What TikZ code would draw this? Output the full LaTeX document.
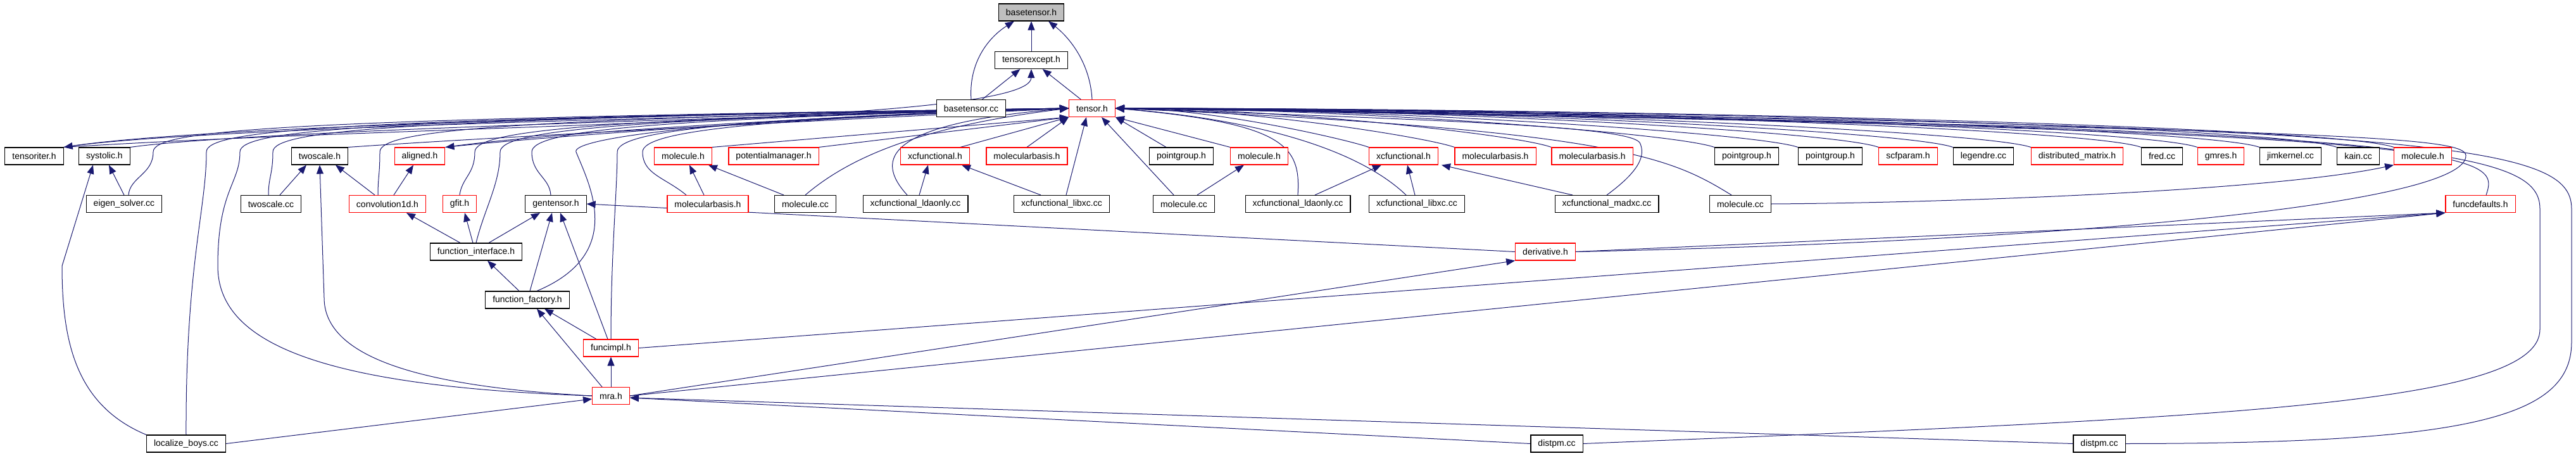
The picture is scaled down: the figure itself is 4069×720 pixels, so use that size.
\documentclass[tikz,border=0pt]{standalone}
\usepackage{fontspec}
\setmainfont{Liberation Sans}
\usetikzlibrary{arrows.meta, backgrounds}
\definecolor{edgeblue}{RGB}{25,25,112}
\definecolor{rootgray}{RGB}{191,191,191}
\tikzset{
  file/.style={rectangle, draw=black, line width=1.1pt, fill=white,
               minimum height=27pt, inner xsep=11.5pt, inner ysep=0pt,
               font=\fontsize{14}{16}\selectfont},
  redfile/.style={file, draw=red},
  rootfile/.style={file, fill=rootgray},
  dep/.style={-{Triangle[length=14pt,width=11pt]}, line width=1pt, draw=edgeblue},
}
\begin{document}
\begin{tikzpicture}[x=1pt, y=1pt]
  \useasboundingbox (0,0) rectangle (4069,-720);

  % Root and top files
  \node[rootfile] (bth) at (1629,-19.5) {basetensor.h};
  \node[file] (tex) at (1629,-95) {tensorexcept.h};
  \node[file] (btcc) at (1534,-171) {basetensor.cc};
  \node[redfile] (tens) at (1725,-171) {tensor.h};

  % First row
  \node[file] (titer) at (54,-246.5) {tensoriter.h};
  \node[file] (syst) at (165,-246.5) {systolic.h};
  \node[file] (twoh) at (505,-246.5) {twoscale.h};
  \node[redfile] (alig) at (663,-246.5) {aligned.h};
  \node[redfile] (molA) at (1079,-246.5) {molecule.h};
  \node[redfile] (potm) at (1222,-246.5) {potentialmanager.h};
  \node[redfile] (xcfA) at (1477,-246.5) {xcfunctional.h};
  \node[redfile] (mbasA) at (1622,-246.5) {molecularbasis.h};
  \node[file] (pgA) at (1866,-246.5) {pointgroup.h};
  \node[redfile] (molB) at (1989,-246.5) {molecule.h};
  \node[redfile] (xcfB) at (2217,-246.5) {xcfunctional.h};
  \node[redfile] (mbasB) at (2362,-246.5) {molecularbasis.h};
  \node[redfile] (mbasC) at (2515,-246.5) {molecularbasis.h};
  \node[file] (pgB) at (2759,-246.5) {pointgroup.h};
  \node[file] (pgC) at (2891,-246.5) {pointgroup.h};
  \node[redfile] (scfp) at (3014,-246.5) {scfparam.h};
  \node[file] (lege) at (3133,-246.5) {legendre.cc};
  \node[redfile] (dmat) at (3281,-246.5) {distributed\_matrix.h};
  \node[file] (fred) at (3415,-246.5) {fred.cc};
  \node[redfile] (gmrs) at (3508,-246.5) {gmres.h};
  \node[file] (jimk) at (3618,-246.5) {jimkernel.cc};
  \node[file] (kain) at (3725,-246.5) {kain.cc};
  \node[redfile] (molC) at (3827,-246.5) {molecule.h};

  % Second row
  \node[file] (eigs) at (196,-322) {eigen\_solver.cc};
  \node[file] (twocc) at (428,-322) {twoscale.cc};
  \node[redfile] (conv) at (612,-322) {convolution1d.h};
  \node[redfile] (gfit) at (726,-322) {gfit.h};
  \node[file] (gent) at (878,-322) {gentensor.h};
  \node[redfile] (mbasD) at (1118,-322) {molecularbasis.h};
  \node[file] (mccA) at (1272,-322) {molecule.cc};
  \node[file] (ldaA) at (1446,-322) {xcfunctional\_ldaonly.cc};
  \node[file] (lxcA) at (1677,-322) {xcfunctional\_libxc.cc};
  \node[file] (mccB) at (1870,-322) {molecule.cc};
  \node[file] (ldaB) at (2050,-322) {xcfunctional\_ldaonly.cc};
  \node[file] (lxcB) at (2238,-322) {xcfunctional\_libxc.cc};
  \node[file] (madx) at (2538,-322) {xcfunctional\_madxc.cc};
  \node[file] (mccC) at (2749,-322) {molecule.cc};
  \node[redfile] (fdef) at (3918,-322) {funcdefaults.h};

  % Lower files
  \node[file] (fint) at (752,-397.5) {function\_interface.h};
  \node[redfile] (deri) at (2441,-397.5) {derivative.h};
  \node[file] (ffac) at (833,-473.5) {function\_factory.h};
  \node[redfile] (fimp) at (965,-549.5) {funcimpl.h};
  \node[redfile] (mra) at (965,-625) {mra.h};
  \node[file] (lboy) at (294,-700.5) {localize\_boys.cc};
  \node[file] (dpmA) at (2459,-700.5) {distpm.cc};
  \node[file] (dpmB) at (3316,-700.5) {distpm.cc};

  \begin{scope}[on background layer]
    % Into basetensor.h and tensorexcept.h
    \draw[dep] (tex) -- (bth);
    \draw[dep] (btcc.north) .. controls (1530,-100) and (1560,-60) .. ([xshift=25pt]bth.south west);
    \draw[dep] (tens.north) .. controls (1722,-100) and (1690,-60) .. ([xshift=-25pt]bth.south east);
    \draw[dep] (btcc) -- (tex);
    \draw[dep] (tens) -- (tex);
    \draw[dep] (titer.north east) .. controls (700,-195) and (1628,-195) .. (tex.south);

    % Left bundle into tensor.h
    \draw[dep] (titer.north east) .. controls (300,-200) and (1300,-180) .. (tens.west);
    \draw[dep] (tens.west) .. controls (1300,-176) and (350,-195) .. (titer.north east);
    \draw[dep] (syst.north east) .. controls (400,-205) and (1300,-182) .. (tens.west);
    \draw[dep] (twoh.north east) .. controls (800,-215) and (1400,-185) .. (tens.west);
    \draw[dep] (tens.west) .. controls (1400,-178) and (900,-212) .. (alig.north east);
    \draw[dep] (alig.north east) .. controls (900,-205) and (1400,-180) .. (tens.west);
    \draw[dep] ([xshift=7pt]eigs.north) .. controls (205,-280) and (242,-275) .. (242,-240)
      .. controls (242,-205) and (442,-188) .. (tens.west);
    \draw[dep] (lboy.north) .. controls (293,-420) and (326,-330) .. (326,-240)
      .. controls (326,-205) and (526,-188) .. (tens.west);
    \draw[dep] (mra.west) .. controls (500,-610) and (344,-540) .. (344,-420)
      .. controls (344,-300) and (379,-290) .. (379,-240)
      .. controls (379,-205) and (579,-188) .. (tens.west);
    \draw[dep] ([xshift=-4pt]twocc.north) .. controls (424,-280) and (431,-275) .. (431,-240)
      .. controls (431,-205) and (631,-188) .. (tens.west);
    \draw[dep] ([xshift=-15pt]conv.north) .. controls (597,-280) and (600,-275) .. (600,-240)
      .. controls (600,-205) and (800,-188) .. (tens.west);
    \draw[dep] (gfit.north) .. controls (730,-280) and (750,-275) .. (750,-240)
      .. controls (750,-205) and (950,-188) .. (tens.west);
    \draw[dep] (fint.north) .. controls (765,-330) and (790,-290) .. (790,-240)
      .. controls (790,-205) and (990,-188) .. (tens.west);
    \draw[dep] ([xshift=-8pt]gent.north) .. controls (868,-280) and (840,-275) .. (840,-240)
      .. controls (840,-205) and (1040,-188) .. (tens.west);
    \draw[dep] ([xshift=15pt]ffac.north) .. controls (990,-400) and (930,-290) .. (910,-240)
      .. controls (902,-220) and (1100,-188) .. (tens.west);
    \draw[dep] (fimp.north) .. controls (965,-400) and (975,-300) .. (975,-240)
      .. controls (975,-205) and (1175,-188) .. (tens.west);
    \draw[dep] ([xshift=-34pt]mbasD.north) .. controls (1050,-280) and (1015,-275) .. (1015,-240)
      .. controls (1015,-205) and (1215,-188) .. (tens.west);
    \draw[dep] (mccA.north) .. controls (1340,-250) and (1450,-200) .. (tens.west);
    \draw[dep] ([xshift=-13pt]ldaA.north) .. controls (1380,-250) and (1400,-195) .. (tens.west);
    \draw[dep] (molA.north east) -- (tens.south west);
    \draw[dep] (potm.north east) -- (tens.south west);
    \draw[dep] ([xshift=-15pt]xcfA.north east) -- (tens.south west);
    \draw[dep] (mbasA.north) -- (tens.south west);
    \draw[dep] ([xshift=7pt]lxcA.north) -- ([xshift=-9pt]tens.south);
    \draw[dep] ([xshift=-16pt]mccB.north) -- ([xshift=15pt]tens.south);
    \draw[dep] ([xshift=-24pt]pgA.north) -- (tens.south east);

    % Right bundle into tensor.h
    \draw[dep] (molB.north west) -- (tens.south east);
    \draw[dep] (xcfB.north west) .. controls (2123,-219) and (1912,-171) .. (tens.east);
    \draw[dep] (mbasB.north west) .. controls (2251,-216) and (1962,-171) .. (tens.east);
    \draw[dep] (mbasC.north west) .. controls (2395,-212) and (2012,-171) .. (tens.east);
    \draw[dep] (pgB.north west) .. controls (2640,-209) and (2112,-171) .. (tens.east);
    \draw[dep] (pgC.north west) .. controls (2772,-209) and (2162,-171) .. (tens.east);
    \draw[dep] (scfp.north west) .. controls (2893,-206) and (2212,-171) .. (tens.east);
    \draw[dep] (lege.north west) .. controls (3010,-206) and (2262,-171) .. (tens.east);
    \draw[dep] (dmat.north west) .. controls (3130,-206) and (2312,-171) .. (tens.east);
    \draw[dep] (fred.north west) .. controls (3297,-202) and (2362,-171) .. (tens.east);
    \draw[dep] (gmrs.north west) .. controls (3386,-202) and (2412,-171) .. (tens.east);
    \draw[dep] (jimk.north west) .. controls (3484,-202) and (2462,-171) .. (tens.east);
    \draw[dep] (kain.north west) .. controls (3598,-199) and (2512,-171) .. (tens.east);
    \draw[dep] (molC.north west) .. controls (3687,-199) and (2562,-171) .. (tens.east);
    \draw[dep] (ldaB.north) .. controls (2055,-230) and (2030,-195) .. (tens.east);
    \draw[dep] ([xshift=-17pt]lxcB.north) .. controls (2150,-240) and (2000,-190) .. (tens.east);
    \draw[dep] (madx.north) .. controls (2590,-270) and (2600,-245) .. (2590,-225)
      .. controls (2570,-200) and (2300,-190) .. (tens.east);
    \draw[dep] ([xshift=-14pt]mccC.north) .. controls (2640,-250) and (2560,-205) .. (tens.east);
    \draw[dep] ([xshift=9pt]fdef.north) .. controls (3950,-240) and (3940,-205) .. (tens.east);
    \draw[dep] (deri.east) .. controls (3300,-380) and (3900,-320) .. (3895,-245)
      .. controls (3890,-215) and (3700,-205) .. (tens.east);
    \draw[dep] (dpmA.east) .. controls (3500,-660) and (4012,-640) .. (4012,-520)
      -- (4012,-330) .. controls (4012,-230) and (3800,-200) .. (tens.east);
    \draw[dep] (dpmB.east) .. controls (3900,-700) and (4062,-660) .. (4062,-540)
      -- (4062,-330) .. controls (4062,-225) and (3850,-195) .. (tens.east);

    % Row to row
    \draw[dep] (eigs.north) -- ([xshift=7pt]syst.south);
    \draw[dep] (lboy.north west) .. controls (120,-640) and (98,-540) .. (98,-420)
      -- ([xshift=-18pt]syst.south);
    \draw[dep] ([xshift=14pt]twocc.north) -- ([xshift=-21pt]twoh.south);
    \draw[dep] ([xshift=-20pt]conv.north) -- ([xshift=25pt]twoh.south);
    \draw[dep] (mra.west) .. controls (650,-610) and (512,-560) .. (512,-470) -- (twoh.south);
    \draw[dep] ([xshift=10pt]conv.north) -- ([xshift=-10pt]alig.south);
    \draw[dep] ([xshift=-25pt]fint.north) -- ([xshift=30pt]conv.south);
    \draw[dep] ([xshift=-5pt]fint.north) -- ([xshift=8pt]gfit.south);
    \draw[dep] ([xshift=20pt]fint.north) -- ([xshift=-25pt]gent.south);
    \draw[dep] ([xshift=-13pt]ffac.north) -- ([xshift=18pt]fint.south);
    \draw[dep] ([xshift=4pt]ffac.north) -- ([xshift=-6pt]gent.south);
    \draw[dep] ([xshift=-23pt]fimp.north) -- ([xshift=27pt]ffac.south);
    \draw[dep] ([xshift=-5pt]fimp.north) -- ([xshift=7pt]gent.south);
    \draw[dep] ([xshift=-14pt]mra.north) -- ([xshift=15pt]ffac.south);
    \draw[dep] (mra) -- (fimp);
    \draw[dep] (mra.east) -- (deri.south west);
    \draw[dep] (mra.east) -- (fdef.south west);
    \draw[dep] (fimp.east) -- (fdef.south west);
    \draw[dep] (deri.east) -- (fdef.south west);
    \draw[dep] (deri.west) -- (gent.east);
    \draw[dep] (lboy.east) -- ([yshift=-5pt]mra.west);
    \draw[dep] (dpmA.west) -- ([yshift=-3pt]mra.east);
    \draw[dep] (dpmB.west) -- ([yshift=-3pt]mra.east);
    \draw[dep] ([xshift=-6pt]mbasD.north) -- ([xshift=10pt]molA.south);
    \draw[dep] ([xshift=-34pt]mccA.north) -- ([xshift=-6pt]molA.south east);
    \draw[dep] ([xshift=6pt]ldaA.north) -- ([xshift=-11pt]xcfA.south);
    \draw[dep] ([xshift=-33pt]lxcA.north) -- ([xshift=42pt]xcfA.south);
    \draw[dep] ([xshift=21pt]mccB.north) -- ([xshift=-24pt]molB.south);
    \draw[dep] ([xshift=27pt]ldaB.north) -- ([xshift=-35pt]xcfB.south);
    \draw[dep] ([xshift=-3pt]lxcB.north) -- ([xshift=6pt]xcfB.south);
    \draw[dep] ([xshift=-54pt]madx.north) -- ([xshift=60pt]xcfB.south);
    \draw[dep] (mccC.east) .. controls (3100,-320) and (3600,-300) .. (molC.south west);
  \end{scope}
\end{tikzpicture}
\end{document}
